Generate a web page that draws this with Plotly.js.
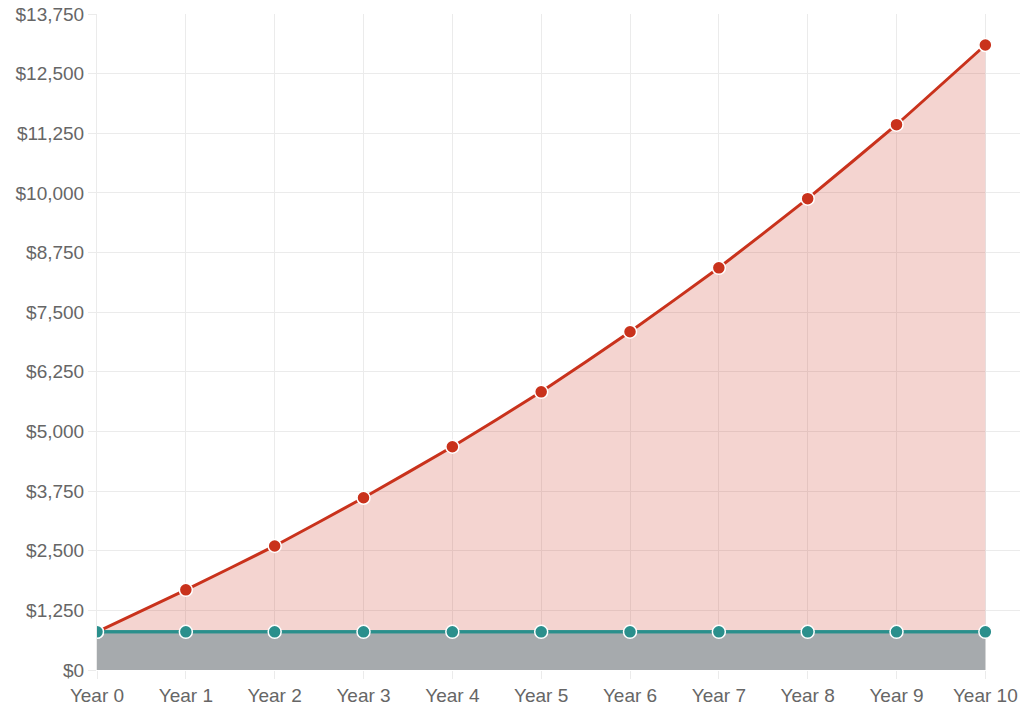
<!DOCTYPE html>
<html>
<head>
<meta charset="utf-8">
<script src="https://cdn.plot.ly/plotly-3.0.1.min.js"></script>
<style>html,body{margin:0;padding:0;background:#fff;}#chart{width:1024px;height:713px;}</style>
</head>
<body>
<div id="chart"></div>
<script>
const categories = ["Year 0","Year 1","Year 2","Year 3","Year 4","Year 5","Year 6","Year 7","Year 8","Year 9","Year 10"];
const contributions = [800,800,800,800,800,800,800,800,800,800,800];
const balance = [800,1680,2600,3610,4680,5830,7090,8430,9880,11430,13100];
const yTicks = [0,1250,2500,3750,5000,6250,7500,8750,10000,11250,12500,13750];

const xIdx = categories.map((c,i)=>i);
const teal = '#2a8f8c';
const red = '#c9321c';

const traces = [
  {
    x: xIdx, y: contributions, type: 'scatter', mode: 'lines',
    fill: 'tozeroy', fillcolor: 'rgba(166,170,173,1)',
    line: {color: teal, width: 3},
    hoverinfo: 'skip', showlegend: false
  },
  {
    x: xIdx, y: balance, type: 'scatter', mode: 'lines+markers',
    fill: 'tonexty', fillcolor: 'rgba(205,60,40,0.22)',
    line: {color: red, width: 3, shape: 'spline', smoothing: 0.3},
    marker: {size: 13, color: red, line: {color: '#ffffff', width: 1.5}},
    hoverinfo: 'skip', showlegend: false
  },
  {
    x: xIdx, y: contributions, type: 'scatter', mode: 'lines+markers',
    line: {color: teal, width: 3},
    marker: {size: 13, color: teal, line: {color: '#ffffff', width: 1.5}},
    hoverinfo: 'skip', showlegend: false
  }
];

const layout = {
  width: 1024, height: 713,
  margin: {l: 97, r: 4, t: 14, b: 43},
  paper_bgcolor: '#ffffff', plot_bgcolor: '#ffffff',
  font: {family: 'Liberation Sans, Arial, sans-serif', size: 19, color: '#666666'},
  xaxis: {
    range: [0, 10.39], tickmode: 'array', tickvals: xIdx, ticktext: categories,
    showgrid: true, gridcolor: '#ebebeb', gridwidth: 1,
    zeroline: false, showline: false,
    ticks: 'outside', ticklen: 8, tickcolor: '#ebebeb', tickwidth: 1,
    fixedrange: true
  },
  yaxis: {
    range: [0, 13750], tickmode: 'array', tickvals: yTicks,
    ticktext: yTicks.map(v => '$' + v.toLocaleString('en-US')),
    showgrid: true, gridcolor: '#ebebeb', gridwidth: 1,
    zeroline: false, showline: true, linecolor: '#ebebeb', linewidth: 1,
    ticks: 'outside', ticklen: 8, tickcolor: '#ebebeb', tickwidth: 1,
    fixedrange: true
  }
};

Plotly.newPlot('chart', traces, layout, {displayModeBar: false, staticPlot: true});
</script>
</body>
</html>
